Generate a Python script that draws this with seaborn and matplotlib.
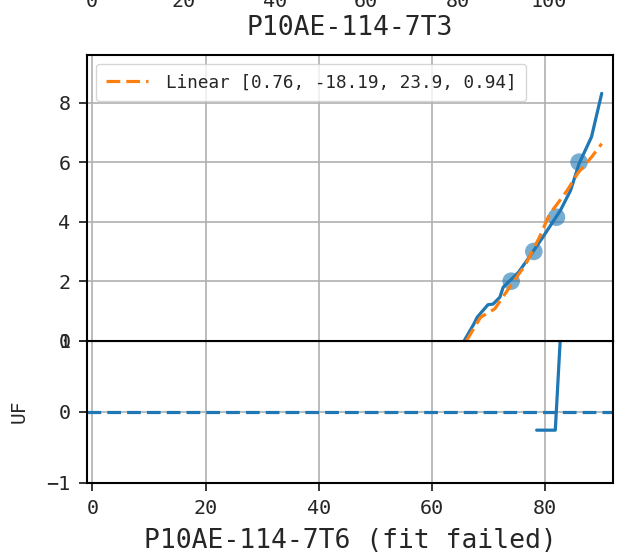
import matplotlib
matplotlib.use("Agg")
import matplotlib.pyplot as plt
from matplotlib import font_manager
import seaborn as sns

# upper panel: observed curve, fitted curve and sample points
obs_x = [65.7, 67.4, 68.0, 69.9, 70.8, 72.0, 72.6, 75.3, 77.2, 79.6, 82.7, 84.5, 86.0, 88.2, 90.0]
obs_y = [0.0, 0.56, 0.79, 1.21, 1.23, 1.46, 1.80, 2.30, 2.81, 3.48, 4.38, 5.05, 5.95, 6.85, 8.31]
fit_x = [66.1, 68.6, 71.1, 72.9, 76.6, 79.0, 80.8, 82.4, 83.9, 85.7, 88.2, 90.0]
fit_y = [0.0, 0.79, 1.07, 1.57, 2.58, 3.48, 4.26, 4.66, 5.05, 5.61, 6.17, 6.62]
pts_x = [74, 78, 82, 86]
pts_y = [2.0, 3.0, 4.15, 6.0]
fit_label = "Linear [0.76, -18.19, 23.9, 0.94]"

# lower panel: UF
uf_x = [78.5, 81.8, 83.0]
uf_y = [-0.26, -0.26, 1.5]

top_ticks = [0, 20, 40, 60, 80, 100]

sns.set_style("ticks", {"axes.grid": True, "grid.color": "#b0b0b0",
                        "axes.edgecolor": "black"})

# monospaced look of the original (SimHei-like half-width glyphs)
installed = {f.name for f in font_manager.fontManager.ttflist}
if 'Noto Sans Mono CJK SC' in installed:
    plt.rcParams['font.family'] = ['Noto Sans Mono CJK SC', 'DejaVu Sans Mono']
    k = 1.2
else:
    plt.rcParams['font.family'] = ['DejaVu Sans Mono', 'DejaVu Sans']
    k = 1.0

plt.rcParams['axes.linewidth'] = 1.5
plt.rcParams['grid.linewidth'] = 1.2
plt.rcParams['xtick.major.width'] = 1.3
plt.rcParams['ytick.major.width'] = 1.3
plt.rcParams['xtick.major.size'] = 6
plt.rcParams['ytick.major.size'] = 6
plt.rcParams['xtick.major.pad'] = 6
plt.rcParams['ytick.major.pad'] = 6

fig = plt.figure(figsize=(6.23, 5.54), dpi=100)
ax_low = fig.add_axes([0.1401, 0.1287, 0.8439, 0.2563])
ax_up = fig.add_axes([0.1401, 0.385, 0.8439, 0.5157], sharex=ax_low)
ax_prev = fig.add_axes([0.1401, 1.045, 0.8439, 0.3])

blue = sns.color_palette()[0]
orange = sns.color_palette()[1]
dash = (0, (4.3, 1.9))

# Upper panel
sns.lineplot(x=obs_x, y=obs_y, ax=ax_up, color=blue, lw=2.3, sort=False)
sns.lineplot(x=fit_x, y=fit_y, ax=ax_up, color=orange, lw=2.3,
             linestyle=dash, sort=False, label=fit_label)
sns.scatterplot(x=pts_x, y=pts_y, ax=ax_up, color=blue, s=160, alpha=0.6,
                edgecolor='none')
ax_up.set_ylim(0, 9.6)
ax_up.set_yticks([0, 2, 4, 6, 8])
ax_up.tick_params(axis='x', bottom=False, labelbottom=False)
ax_up.tick_params(axis='y', labelsize=14.5 * k)
ax_up.set_xlabel('')
ax_up.legend(loc='upper left', fontsize=12.7 * k, handlelength=2.4,
             handletextpad=1.0, borderpad=0.55)

# Lower panel
ax_low.axhline(0, color=blue, lw=2.3, linestyle=dash)
sns.lineplot(x=uf_x, y=uf_y, ax=ax_low, color=blue, lw=2.3, sort=False)
ax_low.set_ylim(-1, 1)
ax_low.set_yticks([-1, 0, 1])
ax_low.set_xlim(-0.9, 92)
ax_low.set_xticks([0, 20, 40, 60, 80])
ax_low.tick_params(labelsize=14.5 * k)
ax_low.set_ylabel('UF', fontsize=14 * k)
ax_low.yaxis.set_label_coords(-0.112, 0.5)
ax_low.set_xlabel('P10AE-114-7T6 (fit failed)', fontsize=19 * k, labelpad=7)

# Previous subplot (only its tick labels and label show at the top)
ax_prev.set_xlim(-1.1, 114)
ax_prev.set_xticks(top_ticks)
ax_prev.set_yticks([])
ax_prev.tick_params(labelsize=14.5 * k)
ax_prev.set_xlabel('P10AE-114-7T3', fontsize=19 * k, labelpad=3)

fig.savefig("out.png", dpi=100)
